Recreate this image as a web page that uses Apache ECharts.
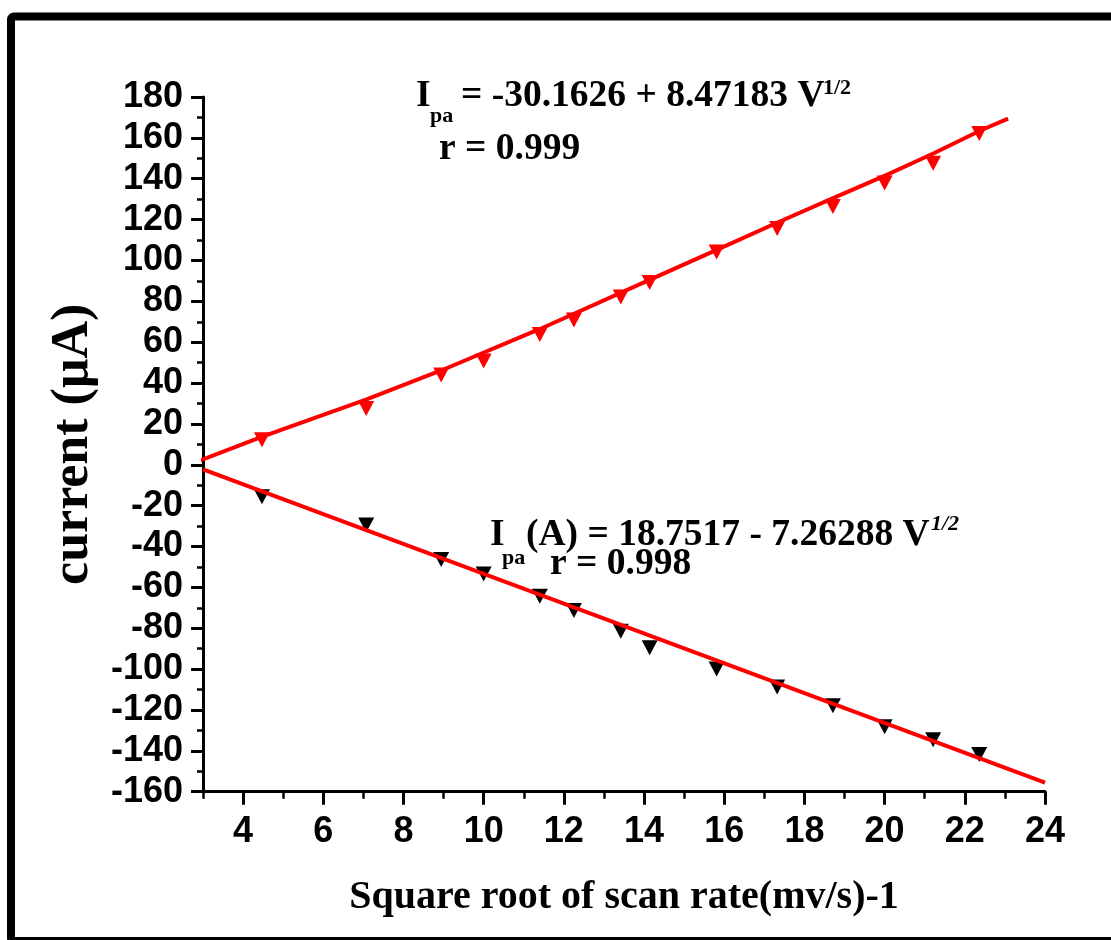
<!DOCTYPE html>
<html>
<head>
<meta charset="utf-8">
<script src="https://cdn.jsdelivr.net/npm/echarts@6/dist/echarts.min.js"></script>
<style>
  html, body { margin: 0; padding: 0; background: #fff; }
  #chart { width: 1111px; height: 940px; }
</style>
</head>
<body>
<div id="chart"></div>
<script>
// Square root of scan rate, (mV/s)^1/2
const sqrtScanRate = [4.47, 7.07, 8.94, 10.0, 11.40, 12.25, 13.42, 14.14, 15.81, 17.32, 18.71, 20.0, 21.21, 22.36];
// Anodic peak current (µA)
const anodicCurrent = [12.2, 27.5, 44.0, 50.8, 63.8, 70.9, 82.1, 89.2, 104.2, 115.6, 126.4, 137.9, 147.6, 162.1];
// Cathodic peak current (µA)
const cathodicCurrent = [-15.7, -29.5, -46.3, -53.4, -64.4, -71.3, -81.5, -89.5, -99.9, -108.8, -117.9, -128.2, -134.6, -141.8];
// Fitted curves, vertices [x, y]
const anodicFit = [[2.73, 0.6], [4.48, 13.8], [7.08, 32.0], [8.97, 46.4], [11.42, 66.6], [14.15, 90.6],
                   [15.84, 105.4], [17.33, 118.6], [18.73, 130.6], [20.04, 141.8], [21.24, 152.6],
                   [22.39, 163.6], [23.08, 169.4]];
const cathodicFit = [[3.0, -2.3], [24.0, -155.6]];
// Axis ticks
const xMajorTicks = [4, 6, 8, 10, 12, 14, 16, 18, 20, 22, 24];
const yTickStep = 20;

const serif = "'Liberation Serif', 'Times New Roman', serif";
const sans = "'Liberation Sans', Arial, sans-serif";

const chart = echarts.init(document.getElementById('chart'), null, { renderer: 'canvas' });

// place a text by its left edge and alphabetic baseline
function txt(left, baseline, text, size, italic) {
  return {
    type: 'text',
    x: left,
    y: baseline - 0.34 * size,
    z: 100,
    style: {
      text: text,
      fill: '#000',
      font: (italic ? 'italic ' : '') + 'bold ' + size + 'px ' + serif,
      align: 'left',
      verticalAlign: 'middle'
    }
  };
}

const toPairs = (xs, ys) => xs.map((x, i) => [x, ys[i]]);

const markerStyle = (color) => ({
  type: 'scatter',
  symbol: 'triangle',
  symbolRotate: 180,
  symbolSize: [16, 15],
  itemStyle: { color: color, opacity: 1 },
  z: 2
});

chart.setOption({
  backgroundColor: '#fff',
  animation: false,
  grid: { left: 203, right: 66, top: 97, bottom: 148.3, containLabel: false },
  xAxis: [
    {
      type: 'value',
      position: 'bottom',
      min: 3,
      max: 24,
      name: 'Square root of scan rate(mv/s)-1',
      nameLocation: 'middle',
      nameGap: 86,
      nameTextStyle: { fontFamily: serif, fontWeight: 'bold', fontSize: 40, color: '#000' },
      axisLine: { show: true, onZero: false, lineStyle: { color: '#000', width: 3 } },
      axisTick: { show: true, length: 13, lineStyle: { color: '#000', width: 3 }, customValues: xMajorTicks },
      axisLabel: { show: true, margin: 22, customValues: xMajorTicks, fontFamily: sans, fontWeight: 'bold', fontSize: 36, color: '#000' },
      splitLine: { show: false }
    },
    {
      // minor ticks every unit
      type: 'value',
      position: 'bottom',
      min: 3,
      max: 24,
      interval: 1,
      axisLine: { show: false, onZero: false },
      axisTick: { show: true, length: 7, lineStyle: { color: '#000', width: 2.5 } },
      axisLabel: { show: false },
      splitLine: { show: false }
    }
  ],
  yAxis: {
    type: 'value',
    min: -160,
    max: 180,
    interval: yTickStep,
    name: 'current (\u03bcA)',
    nameLocation: 'middle',
    nameGap: 79,
    nameTextStyle: { fontFamily: serif, fontWeight: 'bold', fontSize: 52, color: '#000' },
    axisLine: { show: true, onZero: false, lineStyle: { color: '#000', width: 3 } },
    axisTick: { show: true, length: 12, lineStyle: { color: '#000', width: 3 } },
    minorTick: { show: true, splitNumber: 2, length: 6, lineStyle: { color: '#000', width: 2.5 } },
    axisLabel: { margin: 20, fontFamily: sans, fontWeight: 'bold', fontSize: 36, color: '#000' },
    splitLine: { show: false }
  },
  series: [
    Object.assign(markerStyle('#ff0000'), { name: 'Anodic', data: toPairs(sqrtScanRate, anodicCurrent) }),
    Object.assign(markerStyle('#000000'), { name: 'Cathodic', data: toPairs(sqrtScanRate, cathodicCurrent) }),
    {
      name: 'Anodic fit', type: 'line', data: anodicFit, showSymbol: false, clip: false, z: 3,
      lineStyle: { color: '#ff0000', width: 4, join: 'round' }
    },
    {
      name: 'Cathodic fit', type: 'line', data: cathodicFit, showSymbol: false, clip: false, z: 3,
      lineStyle: { color: '#ff0000', width: 4 }
    }
  ],
  graphic: [
    // outer frame
    {
      type: 'rect', z: 100,
      shape: { x: 11, y: 16.5, width: 1200, height: 924.5, r: 3 },
      style: { fill: 'none', stroke: '#000', lineWidth: 8 }
    },
    // anodic fit equation
    txt(416, 109, 'I', 37.5),
    txt(430, 124, 'pa', 22),
    txt(461, 109, '= -30.1626 + 8.47183 V', 37.5),
    txt(823, 96, '1/2', 22),
    txt(439, 161.7, 'r = 0.999', 37.5),
    // cathodic fit equation
    txt(490, 548, 'I', 37.5),
    txt(502, 566, 'pa', 22),
    txt(526, 548, '(A) = 18.7517 - 7.26288 V', 37.5),
    txt(931, 532, '1/2', 22, true),
    txt(550, 577, 'r = 0.998', 37.5)
  ]
});
</script>
</body>
</html>
